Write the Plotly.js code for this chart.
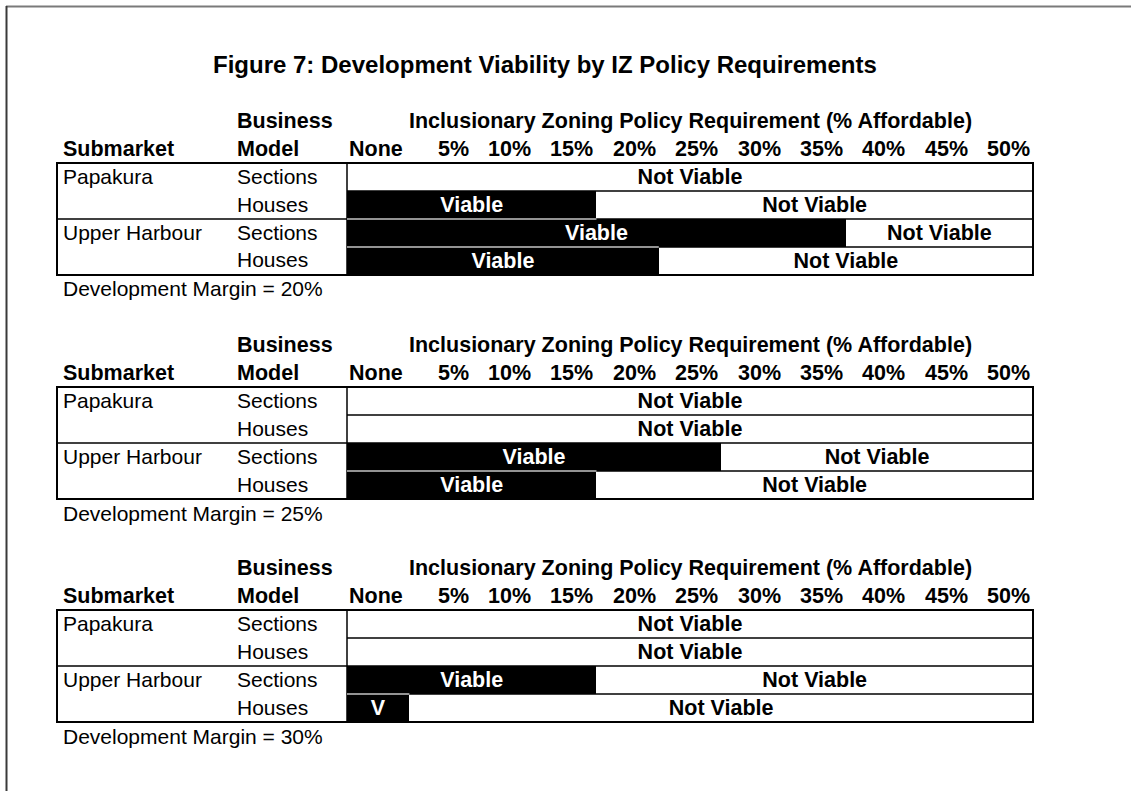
<!DOCTYPE html>
<html>
<head>
<meta charset="utf-8">
<script src="https://cdn.plot.ly/plotly-3.0.1.min.js"></script>
<style>
  html, body { margin: 0; padding: 0; background: #fff; }
  #chart { width: 1131px; height: 791px; }
</style>
</head>
<body>
<div id="chart"></div>
<script>
// ---------------- DATA ----------------
const titleText = "Figure 7: Development Viability by IZ Policy Requirements";
const submarkets = ["Papakura", "Upper Harbour"];
const businessModels = ["Sections", "Houses", "Sections", "Houses"];
const rowSubmarket = ["Papakura", "", "Upper Harbour", ""];
const requirementLabels = ["None", "5%", "10%", "15%", "20%", "25%", "30%", "35%", "40%", "45%", "50%"];
const marginLabels = ["Development Margin = 20%", "Development Margin = 25%", "Development Margin = 30%"];
// number of requirement levels (starting at "None") that are viable, per row
const viable20 = [0, 4, 8, 5];
const viable25 = [0, 0, 6, 4];
const viable30 = [0, 0, 4, 1];
const viableText20 = ["", "Viable", "Viable", "Viable"];
const viableText25 = ["", "", "Viable", "Viable"];
const viableText30 = ["", "", "Viable", "V"];
const notViableText = "Not Viable";
const headerBusiness = ["Business", "Model"];
const headerSubmarket = "Submarket";
const headerIZ = "Inclusionary Zoning Policy Requirement (% Affordable)";

const tables = [
  { viable: viable20, vtext: viableText20, margin: marginLabels[0] },
  { viable: viable25, vtext: viableText25, margin: marginLabels[1] },
  { viable: viable30, vtext: viableText30, margin: marginLabels[2] }
];

// ---------------- LAYOUT HELPERS ----------------
const W = 1131, H = 791;
const px = x => x / W;
const py = y => 1 - y / H;
const FONT = '"Liberation Sans", Arial, Helvetica, sans-serif';
const nCols = requirementLabels.length;
const barLeft = 347, barRight = 1033, tableLeft = 57;
const rowH = 28;
const tableTops = [163, 387, 610];
const BOLD = 21.5, REG = 21;

const data = [];
const annotations = [];
const shapes = [];
const layout = {
  width: W, height: H,
  margin: { l: 0, r: 0, t: 0, b: 0, pad: 0 },
  paper_bgcolor: "#ffffff", plot_bgcolor: "rgba(0,0,0,0)",
  showlegend: false, barmode: "overlay", bargap: 0,
  font: { family: FONT, color: "#000" },
  annotations: annotations, shapes: shapes
};

function ann(o) {
  annotations.push(Object.assign({ showarrow: false, yanchor: "middle", yshift: 1 }, o));
}

// Title
ann({
  xref: "paper", yref: "paper", x: px(545), y: py(65), xanchor: "center",
  text: titleText, font: { family: FONT, size: 24, color: "#000", weight: "bold" }
});

// Page frame lines
shapes.push({ type: "line", xref: "paper", yref: "paper", x0: px(6), x1: px(1131), y0: py(6.5), y1: py(6.5),
  line: { color: "#7a7a7a", width: 2 } });
shapes.push({ type: "line", xref: "paper", yref: "paper", x0: px(6.5), x1: px(6.5), y0: py(6), y1: py(791),
  line: { color: "#3a3a3a", width: 2 } });

const gridShapes = [];
const sepShapes = [];

tables.forEach((tb, k) => {
  const top = tableTops[k];
  const bottom = top + 4 * rowH;
  const sfx = k === 0 ? "" : String(k + 1);
  const xa = "x" + sfx, ya = "y" + sfx;
  layout["xaxis" + sfx] = {
    domain: [px(barLeft), px(barRight)], range: [0, nCols], visible: false,
    fixedrange: true, anchor: ya
  };
  layout["yaxis" + sfx] = {
    domain: [py(bottom), py(top)], range: [3.5, -0.5], visible: false,
    fixedrange: true, anchor: xa
  };
  const rows = [0, 1, 2, 3];
  // viable (black) bars
  data.push({
    type: "bar", orientation: "h", xaxis: xa, yaxis: ya,
    y: rows, x: tb.viable, base: rows.map(() => 0), width: rows.map(() => 1),
    marker: { color: "#000", line: { width: 0 } },
    text: tb.vtext, textposition: "inside", insidetextanchor: "middle", textangle: 0,
    constraintext: "none", cliponaxis: false,
    textfont: { family: FONT, size: BOLD, color: "#fff", weight: "bold" },
    hoverinfo: "skip"
  });
  // not viable (white) bars
  data.push({
    type: "bar", orientation: "h", xaxis: xa, yaxis: ya,
    y: rows, x: tb.viable.map(v => nCols - v), base: tb.viable, width: rows.map(() => 1),
    marker: { color: "#fff", line: { width: 0 } },
    text: tb.viable.map(v => (v < nCols ? notViableText : "")),
    textposition: "inside", insidetextanchor: "middle", textangle: 0,
    constraintext: "none", cliponaxis: false,
    textfont: { family: FONT, size: BOLD, color: "#000", weight: "bold" },
    hoverinfo: "skip"
  });

  // headers
  const h1 = top - 41, h2 = top - 13;
  const bf = { family: FONT, size: BOLD, weight: "bold", color: "#000" };
  ann({ xref: "paper", yref: "paper", x: px(237), y: py(h1), xanchor: "left", xshift: -2, text: headerBusiness[0], font: bf });
  ann({ xref: "paper", yref: "paper", x: px(237), y: py(h2), xanchor: "left", xshift: -2, text: headerBusiness[1], font: bf });
  ann({ xref: "paper", yref: "paper", x: px(63), y: py(h2), xanchor: "left", xshift: -2, text: headerSubmarket, font: bf });
  ann({ xref: xa, yref: "paper", x: nCols / 2, y: py(h1), xanchor: "center", text: headerIZ, font: bf });
  requirementLabels.forEach((lab, i) => {
    if (i === 0) {
      ann({ xref: xa, yref: "paper", x: i + 0.5, y: py(h2), xanchor: "center", xshift: -2, text: lab, font: bf });
    } else {
      ann({ xref: xa, yref: "paper", x: i + 1, y: py(h2), xanchor: "right", xshift: -1, text: lab, font: bf });
    }
  });

  // row labels
  const rf = { family: FONT, size: REG, color: "#000" };
  rows.forEach(r => {
    const yc = top + rowH * r + rowH / 2;
    if (rowSubmarket[r]) {
      ann({ xref: "paper", yref: "paper", x: px(63), y: py(yc), xanchor: "left", xshift: -2, text: rowSubmarket[r], font: rf });
    }
    ann({ xref: "paper", yref: "paper", x: px(237), y: py(yc), xanchor: "left", xshift: -2, text: businessModels[r], font: rf });
  });

  // footnote
  ann({ xref: "paper", yref: "paper", x: px(63), y: py(bottom + 15), xanchor: "left", xshift: -2, text: tb.margin, font: rf });

  // table grid
  gridShapes.push({ type: "line", xref: "paper", yref: "paper", x0: px(barLeft), x1: px(barRight),
    y0: py(top + rowH), y1: py(top + rowH), line: { color: "#000", width: 1.5 }, layer: "above" });
  gridShapes.push({ type: "line", xref: "paper", yref: "paper", x0: px(barLeft), x1: px(barRight),
    y0: py(top + 3 * rowH), y1: py(top + 3 * rowH), line: { color: "#000", width: 1.5 }, layer: "above" });
  gridShapes.push({ type: "line", xref: "paper", yref: "paper", x0: px(tableLeft), x1: px(barRight),
    y0: py(top + 2 * rowH), y1: py(top + 2 * rowH), line: { color: "#000", width: 1.5 }, layer: "above" });
  gridShapes.push({ type: "line", xref: "paper", yref: "paper", x0: px(barLeft), x1: px(barLeft),
    y0: py(top), y1: py(bottom), line: { color: "#000", width: 1.5 }, layer: "above" });
  gridShapes.push({ type: "rect", xref: "paper", yref: "paper", x0: px(tableLeft), x1: px(barRight),
    y0: py(bottom), y1: py(top), line: { color: "#000", width: 2 }, fillcolor: "rgba(0,0,0,0)", layer: "above" });

  // light separators where two viable bars touch
  for (let r = 0; r < 3; r++) {
    const overlap = Math.min(tb.viable[r], tb.viable[r + 1]);
    if (overlap > 0) {
      sepShapes.push({ type: "line", xref: xa, yref: ya, x0: 0, x1: overlap, y0: r + 0.5, y1: r + 0.5,
        line: { color: "#c4c4c4", width: 1.5 }, layer: "above" });
    }
  }
});

gridShapes.forEach(s => shapes.push(s));
sepShapes.forEach(s => shapes.push(s));

Plotly.newPlot("chart", data, layout, { staticPlot: true, displayModeBar: false });
</script>
</body>
</html>
